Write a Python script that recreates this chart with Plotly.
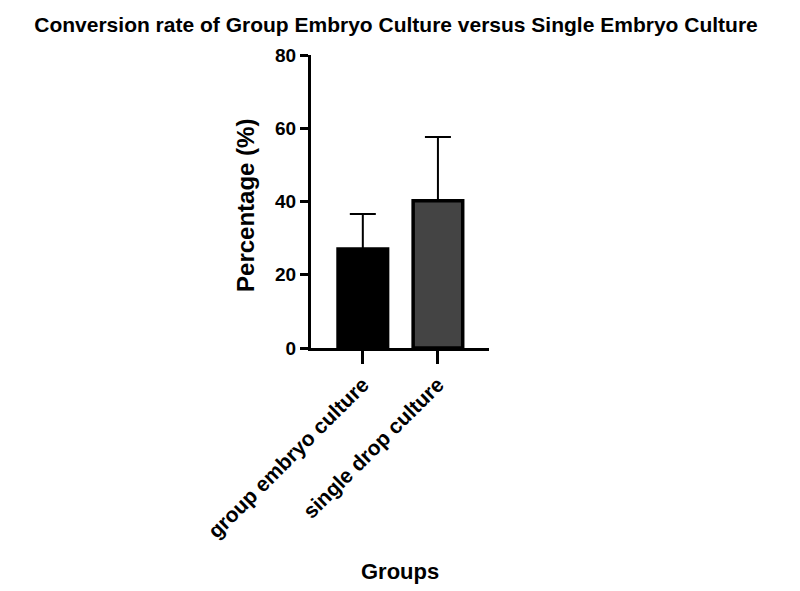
import plotly.graph_objects as go

categories = ["group embryo culture", "single drop culture"]
means = [27.0, 40.2]
errors_up = [9.6, 17.4]
bar_colors = ["#000000", "#444444"]
y_ticks = [0, 20, 40, 60, 80]

FONT = "Liberation Sans, Arial, sans-serif"

fig = go.Figure()
fig.add_trace(go.Bar(
    x=categories,
    y=means,
    width=0.66,
    marker=dict(color=bar_colors, line=dict(color="#000000", width=3.5)),
    error_y=dict(type="data", array=errors_up, arrayminus=[0, 0], symmetric=False,
                 color="#000000", thickness=2, width=13),
))

fig.update_layout(
    width=800, height=591,
    paper_bgcolor="white", plot_bgcolor="white",
    margin=dict(l=303, r=319, t=47, b=251),
    showlegend=False,
    title=dict(text="<b>Conversion rate of Group Embryo Culture versus Single Embryo Culture</b>",
               x=0.485, xanchor="center", y=0.972, yanchor="middle",
               font=dict(family=FONT, size=21, color="#000000")),
    font=dict(family=FONT, color="#000000"),
    annotations=[
        dict(text="<b>Groups</b>", xref="paper", yref="paper", x=0.5, y=-0.7645,
             xanchor="center", yanchor="middle", showarrow=False,
             font=dict(family=FONT, size=22, color="#000000")),
        dict(text="<b>Percentage (%)</b>", xref="paper", yref="paper", x=-0.371, y=0.488,
             xanchor="center", yanchor="middle", textangle=-90, showarrow=False,
             font=dict(family=FONT, size=24, color="#000000")),
    ],
)
fig.update_yaxes(
    range=[0, 80], tickvals=y_ticks,
    ticktext=[f"<b>{v}</b>" for v in y_ticks],
    showline=True, linecolor="#000000", linewidth=3,
    ticks="outside", ticklen=8, tickwidth=3, tickcolor="#000000",
    showgrid=False, zeroline=False,
    tickfont=dict(family=FONT, size=19, color="#000000"),
    automargin=False,
)
fig.update_xaxes(
    range=[-0.69, 1.68],
    tickvals=categories,
    ticktext=[f"<b>{c}</b>" for c in categories],
    tickangle=-45,
    showline=True, linecolor="#000000", linewidth=3,
    ticks="outside", ticklen=13, tickwidth=2.5, tickcolor="#000000",
    showgrid=False, zeroline=False,
    tickfont=dict(family=FONT, size=21, color="#000000"),
    automargin=False,
)

fig.write_html("out.html")
